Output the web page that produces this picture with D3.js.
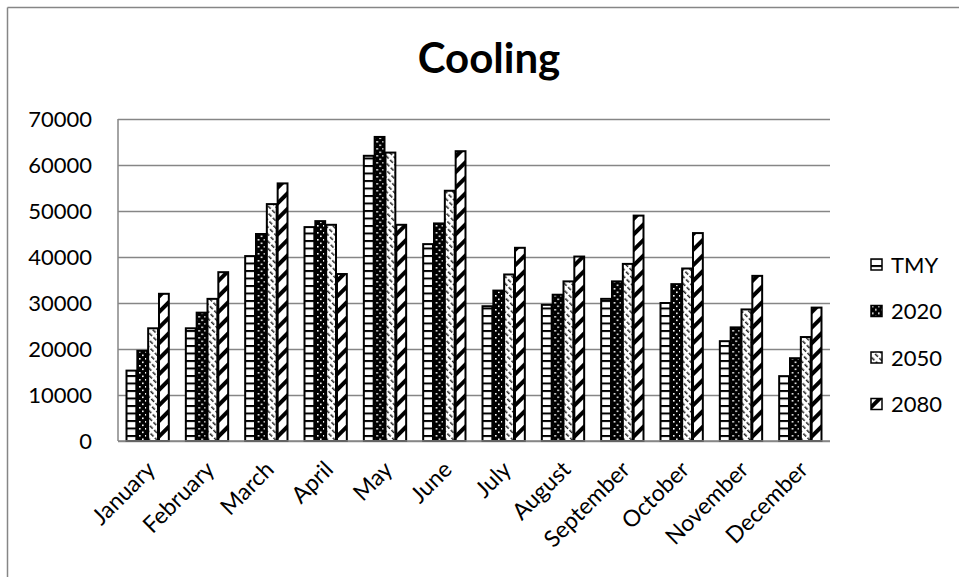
<!DOCTYPE html>
<html>
<head>
<meta charset="utf-8">
<script src="https://cdn.jsdelivr.net/npm/d3@7/dist/d3.min.js"></script>
<style>
  html, body { margin: 0; padding: 0; background: #fff; }
  svg { display: block; }
  text { font-family: Lato, "Open Sans", sans-serif; fill: #000; }
</style>
</head>
<body>
<svg id="chart" width="959" height="577"></svg>
<script>
// Monthly cooling load by weather scenario
const months = ["January", "February", "March", "April", "May", "June",
                "July", "August", "September", "October", "November", "December"];
const seriesNames = ["TMY", "2020", "2050", "2080"];
const tmy   = [15300, 24500, 40200, 46500, 62000, 42800, 29300, 29600, 30900, 30000, 21700, 14100];
const y2020 = [19600, 27900, 45000, 47800, 66100, 47300, 32700, 31800, 34700, 34100, 24700, 18000];
const y2050 = [24500, 30900, 51500, 47000, 62700, 54400, 36200, 34700, 38500, 37500, 28600, 22600];
const y2080 = [32000, 36700, 56000, 36300, 47000, 63000, 42000, 40100, 49000, 45200, 35900, 29000];
const yTicks = [0, 10000, 20000, 30000, 40000, 50000, 60000, 70000];

const seriesValues = [tmy, y2020, y2050, y2080];
const rows = months.map((m, i) => ({
  month: m,
  values: seriesNames.map((s, k) => ({ key: s, value: seriesValues[k][i] }))
}));

const svg = d3.select("#chart");
const plotLeft = 118, plotRight = 830, plotTop = 119, plotBottom = 441;

// outer frame (top and left edges visible)
svg.append("line").attr("x1", 7.5).attr("x2", 959).attr("y1", 7.5).attr("y2", 7.5)
  .attr("stroke", "#868686").attr("stroke-width", 1.5);
svg.append("line").attr("x1", 7.5).attr("x2", 7.5).attr("y1", 7.5).attr("y2", 577)
  .attr("stroke", "#868686").attr("stroke-width", 1.5);

// fill patterns, one per series
const defs = svg.append("defs");

const pTmy = defs.append("pattern").attr("id", "p-tmy")
  .attr("patternUnits", "userSpaceOnUse").attr("width", 8).attr("height", 7.5);
pTmy.append("rect").attr("width", 8).attr("height", 7.5).attr("fill", "#fff");
pTmy.append("rect").attr("y", 0).attr("width", 8).attr("height", 2).attr("fill", "#000");

const p20 = defs.append("pattern").attr("id", "p-2020")
  .attr("patternUnits", "userSpaceOnUse").attr("width", 6).attr("height", 7);
p20.append("rect").attr("width", 6).attr("height", 7).attr("fill", "#000");
p20.append("rect").attr("x", 1).attr("y", 1).attr("width", 1.6).attr("height", 1.6).attr("fill", "#fff");
p20.append("rect").attr("x", 4).attr("y", 4.5).attr("width", 1.6).attr("height", 1.6).attr("fill", "#fff");

// light dashed strokes running down to the right
const p50 = defs.append("pattern").attr("id", "p-2050")
  .attr("patternUnits", "userSpaceOnUse").attr("width", 5).attr("height", 6)
  .attr("patternTransform", "rotate(-45)");
p50.append("rect").attr("width", 5).attr("height", 6).attr("fill", "#fff");
p50.append("rect").attr("x", 0).attr("y", 0).attr("width", 1.5).attr("height", 4).attr("fill", "#222");

// heavy stripes running up to the right
const p80 = defs.append("pattern").attr("id", "p-2080")
  .attr("patternUnits", "userSpaceOnUse").attr("width", 11).attr("height", 11)
  .attr("patternTransform", "rotate(45)");
p80.append("rect").attr("width", 11).attr("height", 11).attr("fill", "#fff");
p80.append("rect").attr("x", 0).attr("y", 0).attr("width", 4).attr("height", 11).attr("fill", "#000");

const fills = { "TMY": "url(#p-tmy)", "2020": "url(#p-2020)", "2050": "url(#p-2050)", "2080": "url(#p-2080)" };

// scales
const x = d3.scaleBand().domain(months).range([plotLeft, plotRight]).paddingInner(0.27).paddingOuter(0.135);
const xs = d3.scaleBand().domain(seriesNames).range([0, x.bandwidth()]);
const y = d3.scaleLinear().domain([0, 70000]).range([plotBottom, plotTop]);

// gridlines + y axis
const yAxis = svg.append("g").attr("transform", `translate(${plotLeft},0)`)
  .call(d3.axisLeft(y).tickValues(yTicks).tickSize(-(plotRight - plotLeft)).tickPadding(26).tickFormat(d3.format("d")));
yAxis.select(".domain").remove();
yAxis.selectAll(".tick line").attr("stroke", "#868686").attr("stroke-width", 1.5);
yAxis.selectAll(".tick text").style("font-size", "22px").attr("dy", "0.36em");

svg.append("line").attr("x1", plotLeft).attr("x2", plotLeft).attr("y1", plotTop).attr("y2", plotBottom)
  .attr("stroke", "#868686").attr("stroke-width", 1.5);

// bars
const groups = svg.append("g").selectAll("g").data(rows).join("g")
  .attr("transform", d => `translate(${x(d.month)},0)`);
groups.selectAll("rect").data(d => d.values).join("rect")
  .attr("x", d => xs(d.key) + 0.5)
  .attr("y", d => y(d.value))
  .attr("width", xs.bandwidth() - 1)
  .attr("height", d => y(0) - y(d.value))
  .attr("fill", d => fills[d.key])
  .attr("stroke", "#000").attr("stroke-width", 2);

// x axis baseline
svg.append("line").attr("x1", plotLeft).attr("x2", plotRight).attr("y1", plotBottom).attr("y2", plotBottom)
  .attr("stroke", "#868686").attr("stroke-width", 1.5);

// month labels, rotated
svg.append("g").selectAll("text").data(months).join("text")
  .attr("transform", d => `translate(${x(d) + x.bandwidth() / 2 + 9},${plotBottom + 30}) rotate(-45)`)
  .attr("text-anchor", "end")
  .style("font-size", "23px")
  .text(d => d);

// title
svg.append("text").attr("x", 489).attr("y", 73).attr("text-anchor", "middle")
  .style("font-size", "42px").style("font-weight", "bold").text("Cooling");

// legend
const legend = svg.append("g").selectAll("g").data(seriesNames).join("g")
  .attr("transform", (d, i) => `translate(871,${265 + i * 46.5})`);
legend.append("rect").attr("x", 0).attr("y", -6).attr("width", 11).attr("height", 11)
  .attr("fill", d => fills[d]).attr("stroke", "#000").attr("stroke-width", 1.5);
legend.append("text").attr("x", 20).attr("dy", "0.36em").style("font-size", "22px").text(d => d);
</script>
</body>
</html>
